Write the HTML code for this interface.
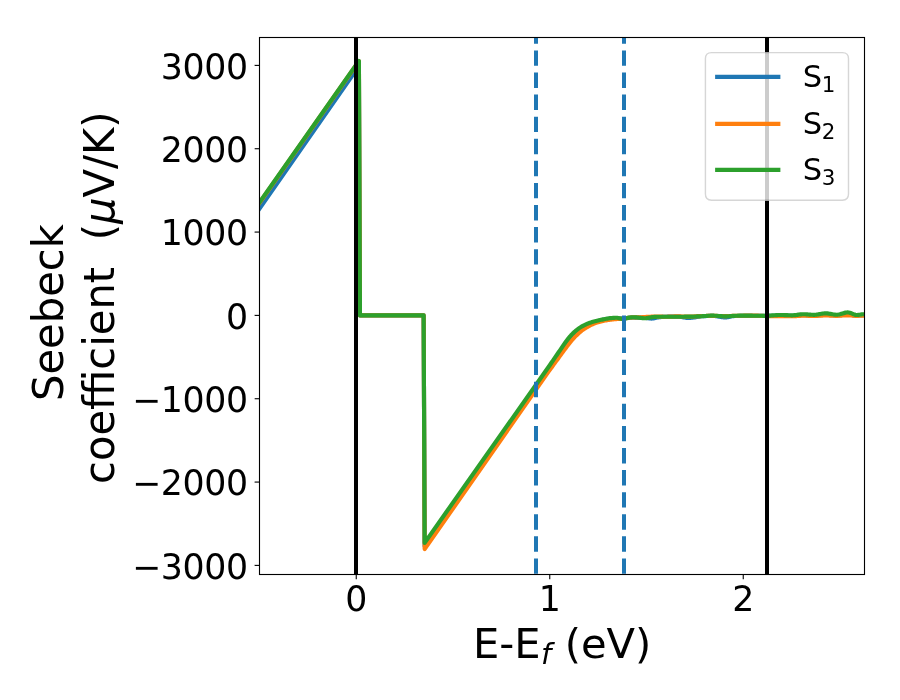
<!DOCTYPE html>
<html lang="en"><head><meta charset="utf-8"><title>Seebeck coefficient vs E-Ef</title>
<style>html,body{margin:0;padding:0;background:#fff;overflow:hidden}svg{display:block}</style>
</head><body>
<svg width="900" height="700" viewBox="0 0 900 700" style="font-family:'DejaVu Sans','Liberation Sans',sans-serif;fill:#000">
<defs><clipPath id="ax"><rect x="259.50" y="37.50" width="605.00" height="537.00"/></clipPath></defs>
<rect width="900" height="700" fill="#fff"/>
<g clip-path="url(#ax)" fill="none" stroke-width="4.167" stroke-linejoin="round">
<polyline stroke="#1f77b4" points="255.63,214.07 358.90,66.10 359.97,315.40 423.65,315.40 424.65,546.23 549.75,367.83 550.76,366.42 551.76,365.01 552.77,363.61 553.77,362.20 554.78,360.79 555.79,359.39 556.79,357.98 557.80,356.58 558.81,355.17 559.81,353.77 560.82,352.36 561.82,350.96 562.83,349.55 563.84,348.13 564.84,346.72 565.85,345.33 566.86,343.97 567.86,342.66 568.87,341.38 569.87,340.13 570.88,338.94 571.89,337.80 572.89,336.71 573.90,335.66 574.91,334.65 575.91,333.68 576.92,332.71 577.92,331.76 578.93,330.87 579.94,330.07 580.94,329.36 581.95,328.71 582.95,328.10 583.96,327.49 584.97,326.87 585.97,326.24 586.98,325.63 587.99,325.06 588.99,324.55 590.00,324.09 591.00,323.66 592.01,323.25 593.02,322.86 594.02,322.47 595.03,322.11 596.04,321.76 597.04,321.44 598.05,321.13 599.05,320.85 600.06,320.58 601.07,320.32 602.07,320.07 603.08,319.82 604.08,319.58 605.09,319.37 606.10,319.20 607.10,319.04 608.11,318.88 609.12,318.73 610.12,318.59 611.13,318.45 612.13,318.33 613.14,318.23 614.15,318.15 615.15,318.10 616.16,318.07 617.17,318.08 618.17,318.14 619.18,318.22 620.18,318.31 621.19,318.38 622.20,318.40 623.20,318.38 624.21,318.32 625.22,318.23 626.22,318.13 627.23,318.02 628.23,317.90 629.24,317.79 630.25,317.70 631.25,317.62 632.26,317.58 633.26,317.57 634.27,317.57 635.28,317.57 636.28,317.58 637.29,317.59 638.30,317.60 639.30,317.62 640.31,317.64 641.31,317.65 642.32,317.68 643.33,317.70 644.33,317.73 645.34,317.78 646.35,317.91 647.35,318.08 648.36,318.26 649.36,318.43 650.37,318.54 651.38,318.56 652.38,318.49 653.39,318.34 654.39,318.13 655.40,317.91 656.41,317.69 657.41,317.50 658.42,317.36 659.43,317.25 660.43,317.14 661.44,317.03 662.44,316.94 663.45,316.86 664.46,316.79 665.46,316.75 666.47,316.72 667.48,316.69 668.48,316.67 669.49,316.65 670.49,316.63 671.50,316.61 672.51,316.60 673.51,316.59 674.52,316.58 675.53,316.57 676.53,316.57 677.54,316.57 678.54,316.61 679.55,316.70 680.56,316.84 681.56,317.01 682.57,317.19 683.57,317.38 684.58,317.56 685.59,317.71 686.59,317.83 687.60,317.89 688.61,317.90 689.61,317.87 690.62,317.82 691.62,317.76 692.63,317.68 693.64,317.54 694.64,317.36 695.65,317.15 696.66,316.94 697.66,316.74 698.67,316.56 699.67,316.44 700.68,316.36 701.69,316.29 702.69,316.23 703.70,316.17 704.70,316.12 705.71,316.07 706.72,316.02 707.72,315.98 708.73,315.95 709.74,315.93 710.74,315.91 711.75,315.90 712.75,315.91 713.76,315.95 714.77,316.04 715.77,316.16 716.78,316.30 717.79,316.47 718.79,316.64 719.80,316.81 720.80,316.97 721.81,317.12 722.82,317.24 723.82,317.34 724.83,317.39 725.84,317.39 726.84,317.30 727.85,317.13 728.85,316.91 729.86,316.67 730.87,316.44 731.87,316.24 732.88,316.11 733.88,316.06 734.89,316.04 735.90,316.02 736.90,316.00 737.91,315.98 738.92,315.96 739.92,315.94 740.93,315.93 741.93,315.91 742.94,315.90 743.95,315.89 744.95,315.88 745.96,315.87 746.97,315.86 747.97,315.85 748.98,315.84 749.98,315.84 750.99,315.83 752.00,315.83 753.00,315.82 754.01,315.82 755.01,315.82 756.02,315.82 757.03,315.82 758.03,315.82 759.04,315.83 760.05,315.84 761.05,315.85 762.06,315.86 763.06,315.88 764.07,315.89 765.08,315.90 766.08,315.90 767.09,315.90 768.10,315.89 769.10,315.87 770.11,315.85 771.11,315.82 772.12,315.79 773.13,315.75 774.13,315.72 775.14,315.69 776.15,315.65 777.15,315.62 778.16,315.60 779.16,315.58 780.17,315.57 781.18,315.57 782.18,315.57 783.19,315.58 784.19,315.60 785.20,315.62 786.21,315.64 787.21,315.67 788.22,315.69 789.23,315.71 790.23,315.72 791.24,315.73 792.24,315.73 793.25,315.72 794.26,315.68 795.26,315.63 796.27,315.57 797.28,315.51 798.28,315.44 799.29,315.38 800.29,315.32 801.30,315.27 802.31,315.24 803.31,315.23 804.32,315.24 805.32,315.26 806.33,315.30 807.34,315.34 808.34,315.38 809.35,315.43 810.36,315.47 811.36,315.51 812.37,315.54 813.37,315.56 814.38,315.57 815.39,315.54 816.39,315.49 817.40,315.41 818.41,315.31 819.41,315.20 820.42,315.09 821.42,314.98 822.43,314.89 823.44,314.81 824.44,314.75 825.45,314.73 826.46,314.75 827.46,314.80 828.47,314.88 829.47,314.97 830.48,315.08 831.49,315.19 832.49,315.30 833.50,315.40 834.50,315.48 835.51,315.54 836.52,315.57 837.52,315.55 838.53,315.49 839.54,315.40 840.54,315.29 841.55,315.16 842.55,315.02 843.56,314.89 844.57,314.77 845.57,314.67 846.58,314.60 847.59,314.57 848.59,314.59 849.60,314.69 850.60,314.83 851.61,315.00 852.62,315.19 853.62,315.36 854.63,315.51 855.63,315.61 856.64,315.65 857.65,315.63 858.65,315.57 859.66,315.49 860.67,315.40 861.67,315.32 862.68,315.26 863.68,315.23 864.69,315.23 865.70,315.23 866.70,315.24 867.71,315.25 868.72,315.26 869.72,315.28 870.73,315.31"/>
<polyline stroke="#ff7f0e" points="255.63,208.33 358.90,61.29 359.97,315.40 423.65,315.40 424.65,549.07 549.75,369.92 550.76,368.54 551.76,367.16 552.77,365.78 553.77,364.40 554.78,363.02 555.79,361.64 556.79,360.26 557.80,358.89 558.81,357.51 559.81,356.13 560.82,354.76 561.82,353.38 562.83,352.01 563.84,350.63 564.84,349.26 565.85,347.89 566.86,346.52 567.86,345.17 568.87,343.86 569.87,342.60 570.88,341.38 571.89,340.18 572.89,339.04 573.90,337.94 574.91,336.90 575.91,335.89 576.92,334.91 577.92,333.97 578.93,333.04 579.94,332.13 580.94,331.26 581.95,330.45 582.95,329.71 583.96,329.03 584.97,328.39 585.97,327.78 586.98,327.19 587.99,326.61 588.99,326.04 590.00,325.50 591.00,324.99 592.01,324.50 593.02,324.04 594.02,323.60 595.03,323.19 596.04,322.82 597.04,322.48 598.05,322.17 599.05,321.88 600.06,321.62 601.07,321.37 602.07,321.14 603.08,320.93 604.08,320.73 605.09,320.54 606.10,320.36 607.10,320.18 608.11,320.02 609.12,319.88 610.12,319.75 611.13,319.62 612.13,319.50 613.14,319.38 614.15,319.28 615.15,319.18 616.16,319.09 617.17,319.02 618.17,318.96 619.18,318.91 620.18,318.86 621.19,318.80 622.20,318.73 623.20,318.63 624.21,318.51 625.22,318.37 626.22,318.22 627.23,318.06 628.23,317.90 629.24,317.75 630.25,317.62 631.25,317.51 632.26,317.43 633.26,317.39 634.27,317.36 635.28,317.34 636.28,317.32 637.29,317.30 638.30,317.29 639.30,317.27 640.31,317.24 641.31,317.21 642.32,317.17 643.33,317.13 644.33,317.07 645.34,317.01 646.35,316.95 647.35,316.89 648.36,316.82 649.36,316.76 650.37,316.71 651.38,316.66 652.38,316.62 653.39,316.59 654.39,316.57 655.40,316.57 656.41,316.57 657.41,316.59 658.42,316.60 659.43,316.62 660.43,316.65 661.44,316.67 662.44,316.69 663.45,316.71 664.46,316.73 665.46,316.73 666.47,316.73 667.48,316.72 668.48,316.69 669.49,316.66 670.49,316.62 671.50,316.57 672.51,316.53 673.51,316.49 674.52,316.45 675.53,316.42 676.53,316.41 677.54,316.40 678.54,316.41 679.55,316.42 680.56,316.44 681.56,316.47 682.57,316.50 683.57,316.53 684.58,316.57 685.59,316.60 686.59,316.62 687.60,316.64 688.61,316.65 689.61,316.65 690.62,316.62 691.62,316.58 692.63,316.52 693.64,316.46 694.64,316.38 695.65,316.31 696.66,316.24 697.66,316.17 698.67,316.12 699.67,316.08 700.68,316.05 701.69,316.03 702.69,316.01 703.70,315.99 704.70,315.97 705.71,315.96 706.72,315.94 707.72,315.93 708.73,315.92 709.74,315.91 710.74,315.90 711.75,315.90 712.75,315.90 713.76,315.91 714.77,315.92 715.77,315.93 716.78,315.94 717.79,315.96 718.79,315.98 719.80,316.00 720.80,316.02 721.81,316.04 722.82,316.05 723.82,316.06 724.83,316.07 725.84,316.07 726.84,316.06 727.85,316.04 728.85,316.02 729.86,316.00 730.87,315.97 731.87,315.93 732.88,315.90 733.88,315.86 734.89,315.83 735.90,315.80 736.90,315.77 737.91,315.75 738.92,315.74 739.92,315.73 740.93,315.72 741.93,315.71 742.94,315.71 743.95,315.70 744.95,315.69 745.96,315.69 746.97,315.68 747.97,315.67 748.98,315.67 749.98,315.67 750.99,315.66 752.00,315.66 753.00,315.65 754.01,315.65 755.01,315.65 756.02,315.65 757.03,315.65 758.03,315.67 759.04,315.71 760.05,315.76 761.05,315.82 762.06,315.89 763.06,315.95 764.07,316.00 765.08,316.04 766.08,316.06 767.09,316.07 768.10,316.07 769.10,316.07 770.11,316.07 771.11,316.07 772.12,316.07 773.13,316.07 774.13,316.07 775.14,316.07 776.15,316.07 777.15,316.07 778.16,316.07 779.16,316.07 780.17,316.07 781.18,316.07 782.18,316.07 783.19,316.08 784.19,316.10 785.20,316.12 786.21,316.14 787.21,316.17 788.22,316.19 789.23,316.21 790.23,316.22 791.24,316.23 792.24,316.23 793.25,316.22 794.26,316.18 795.26,316.13 796.27,316.07 797.28,316.01 798.28,315.94 799.29,315.88 800.29,315.82 801.30,315.77 802.31,315.74 803.31,315.73 804.32,315.74 805.32,315.75 806.33,315.77 807.34,315.79 808.34,315.81 809.35,315.83 810.36,315.85 811.36,315.87 812.37,315.89 813.37,315.90 814.38,315.90 815.39,315.89 816.39,315.86 817.40,315.82 818.41,315.77 819.41,315.72 820.42,315.66 821.42,315.61 822.43,315.56 823.44,315.52 824.44,315.49 825.45,315.48 826.46,315.49 827.46,315.51 828.47,315.54 829.47,315.58 830.48,315.62 831.49,315.67 832.49,315.71 833.50,315.75 834.50,315.78 835.51,315.81 836.52,315.82 837.52,315.81 838.53,315.78 839.54,315.74 840.54,315.68 841.55,315.61 842.55,315.54 843.56,315.48 844.57,315.42 845.57,315.37 846.58,315.33 847.59,315.32 848.59,315.33 849.60,315.37 850.60,315.44 851.61,315.52 852.62,315.60 853.62,315.68 854.63,315.75 855.63,315.80 856.64,315.82 857.65,315.81 858.65,315.78 859.66,315.75 860.67,315.72 861.67,315.69 862.68,315.66 863.68,315.65 864.69,315.65 865.70,315.65 866.70,315.65 867.71,315.66 868.72,315.66 869.72,315.67 870.73,315.69"/>
<polyline stroke="#2ca02c" points="255.63,207.86 358.90,60.96 359.97,315.40 423.65,315.40 424.65,542.90 549.75,365.22 550.76,363.76 551.76,362.30 552.77,360.84 553.77,359.37 554.78,357.91 555.79,356.44 556.79,354.98 557.80,353.52 558.81,352.05 559.81,350.58 560.82,349.09 561.82,347.58 562.83,346.08 563.84,344.61 564.84,343.19 565.85,341.80 566.86,340.44 567.86,339.13 568.87,337.88 569.87,336.67 570.88,335.50 571.89,334.40 572.89,333.37 573.90,332.41 574.91,331.50 575.91,330.64 576.92,329.82 577.92,329.05 578.93,328.32 579.94,327.64 580.94,326.99 581.95,326.40 582.95,325.84 583.96,325.32 584.97,324.83 585.97,324.35 586.98,323.89 587.99,323.46 588.99,323.07 590.00,322.71 591.00,322.38 592.01,322.08 593.02,321.78 594.02,321.50 595.03,321.21 596.04,320.94 597.04,320.69 598.05,320.45 599.05,320.22 600.06,320.01 601.07,319.80 602.07,319.59 603.08,319.39 604.08,319.19 605.09,318.99 606.10,318.81 607.10,318.63 608.11,318.46 609.12,318.30 610.12,318.17 611.13,318.07 612.13,317.98 613.14,317.89 614.15,317.82 615.15,317.76 616.16,317.74 617.17,317.77 618.17,317.96 619.18,318.24 620.18,318.52 621.19,318.74 622.20,318.82 623.20,318.77 624.21,318.66 625.22,318.50 626.22,318.31 627.23,318.09 628.23,317.87 629.24,317.66 630.25,317.48 631.25,317.34 632.26,317.25 633.26,317.24 634.27,317.27 635.28,317.34 636.28,317.43 637.29,317.55 638.30,317.67 639.30,317.80 640.31,317.93 641.31,318.04 642.32,318.14 643.33,318.20 644.33,318.23 645.34,318.21 646.35,318.13 647.35,318.00 648.36,317.83 649.36,317.65 650.37,317.45 651.38,317.26 652.38,317.09 653.39,316.95 654.39,316.85 655.40,316.81 656.41,316.80 657.41,316.79 658.42,316.78 659.43,316.77 660.43,316.76 661.44,316.75 662.44,316.74 663.45,316.74 664.46,316.73 665.46,316.73 666.47,316.73 667.48,316.73 668.48,316.73 669.49,316.73 670.49,316.73 671.50,316.73 672.51,316.73 673.51,316.73 674.52,316.73 675.53,316.73 676.53,316.73 677.54,316.73 678.54,316.73 679.55,316.73 680.56,316.73 681.56,316.72 682.57,316.71 683.57,316.71 684.58,316.70 685.59,316.69 686.59,316.68 687.60,316.67 688.61,316.66 689.61,316.64 690.62,316.63 691.62,316.60 692.63,316.58 693.64,316.55 694.64,316.52 695.65,316.48 696.66,316.45 697.66,316.41 698.67,316.37 699.67,316.33 700.68,316.29 701.69,316.24 702.69,316.18 703.70,316.11 704.70,316.03 705.71,315.96 706.72,315.89 707.72,315.82 708.73,315.76 709.74,315.71 710.74,315.67 711.75,315.65 712.75,315.65 713.76,315.67 714.77,315.71 715.77,315.77 716.78,315.83 717.79,315.90 718.79,315.98 719.80,316.05 720.80,316.13 721.81,316.19 722.82,316.25 723.82,316.29 724.83,316.31 725.84,316.32 726.84,316.30 727.85,316.26 728.85,316.22 729.86,316.16 730.87,316.09 731.87,316.02 732.88,315.95 733.88,315.88 734.89,315.81 735.90,315.75 736.90,315.71 737.91,315.67 738.92,315.65 739.92,315.65 740.93,315.65 741.93,315.65 742.94,315.66 743.95,315.66 744.95,315.66 745.96,315.67 746.97,315.67 747.97,315.68 748.98,315.68 749.98,315.69 750.99,315.70 752.00,315.70 753.00,315.71 754.01,315.72 755.01,315.72 756.02,315.73 757.03,315.73 758.03,315.74 759.04,315.75 760.05,315.76 761.05,315.78 762.06,315.79 763.06,315.80 764.07,315.81 765.08,315.81 766.08,315.82 767.09,315.80 768.10,315.73 769.10,315.63 770.11,315.56 771.11,315.49 772.12,315.42 773.13,315.35 774.13,315.28 775.14,315.21 776.15,315.15 777.15,315.09 778.16,315.04 779.16,315.01 780.17,314.99 781.18,314.98 782.18,314.99 783.19,315.02 784.19,315.05 785.20,315.09 786.21,315.14 787.21,315.18 788.22,315.23 789.23,315.26 790.23,315.29 791.24,315.31 792.24,315.32 793.25,315.28 794.26,315.20 795.26,315.10 796.27,314.97 797.28,314.83 798.28,314.68 799.29,314.54 800.29,314.42 801.30,314.32 802.31,314.25 803.31,314.23 804.32,314.25 805.32,314.29 806.33,314.35 807.34,314.42 808.34,314.49 809.35,314.57 810.36,314.65 811.36,314.72 812.37,314.77 813.37,314.81 814.38,314.82 815.39,314.77 816.39,314.68 817.40,314.53 818.41,314.35 819.41,314.16 820.42,313.96 821.42,313.76 822.43,313.59 823.44,313.45 824.44,313.35 825.45,313.32 826.46,313.35 827.46,313.43 828.47,313.56 829.47,313.73 830.48,313.91 831.49,314.10 832.49,314.28 833.50,314.45 834.50,314.59 835.51,314.69 836.52,314.73 837.52,314.70 838.53,314.56 839.54,314.35 840.54,314.08 841.55,313.78 842.55,313.46 843.56,313.15 844.57,312.87 845.57,312.63 846.58,312.47 847.59,312.40 848.59,312.47 849.60,312.69 850.60,313.03 851.61,313.44 852.62,313.88 853.62,314.29 854.63,314.65 855.63,314.89 856.64,314.98 857.65,314.94 858.65,314.84 859.66,314.70 860.67,314.54 861.67,314.39 862.68,314.28 863.68,314.23 864.69,314.23 865.70,314.24 866.70,314.24 867.71,314.26 868.72,314.29 869.72,314.33 870.73,314.38"/>
<line x1="356.00" x2="356.00" y1="574.50" y2="37.50" stroke="#000" stroke-width="4"/>
<line x1="767.00" x2="767.00" y1="574.50" y2="37.50" stroke="#000" stroke-width="4"/>
<line x1="536.00" x2="536.00" y1="574.50" y2="37.50" stroke="#1f77b4" stroke-width="4" stroke-dasharray="15.417 6.667" stroke-dashoffset="-0.7"/>
<line x1="624.00" x2="624.00" y1="574.50" y2="37.50" stroke="#1f77b4" stroke-width="4" stroke-dasharray="15.417 6.667" stroke-dashoffset="-0.7"/>
</g>
<g stroke="#000" stroke-width="1.111" fill="none">
<line x1="356.25" x2="356.25" y1="574.50" y2="579.36"/>
<line x1="549.75" x2="549.75" y1="574.50" y2="579.36"/>
<line x1="743.25" x2="743.25" y1="574.50" y2="579.36"/>
<line x1="259.50" x2="254.64" y1="565.40" y2="565.40"/>
<line x1="259.50" x2="254.64" y1="482.07" y2="482.07"/>
<line x1="259.50" x2="254.64" y1="398.73" y2="398.73"/>
<line x1="259.50" x2="254.64" y1="315.40" y2="315.40"/>
<line x1="259.50" x2="254.64" y1="232.07" y2="232.07"/>
<line x1="259.50" x2="254.64" y1="148.73" y2="148.73"/>
<line x1="259.50" x2="254.64" y1="65.40" y2="65.40"/>
<rect x="259.50" y="37.50" width="605.00" height="537.00" stroke-linejoin="miter"/>
</g>
<g font-size="34.722" text-anchor="middle">
<text x="356.25" y="611.00">0</text>
<text x="549.75" y="611.00">1</text>
<text x="743.25" y="611.00">2</text>
</g>
<g font-size="34.722" text-anchor="end" letter-spacing="-0.3">
<text x="247.90" y="578.65">−3000</text>
<text x="247.90" y="495.32">−2000</text>
<text x="247.90" y="411.98">−1000</text>
<text x="247.90" y="328.65">0</text>
<text x="247.90" y="245.32">1000</text>
<text x="247.90" y="161.98">2000</text>
<text x="247.90" y="78.65">3000</text>
</g>
<g font-size="41.667" style="font-kerning:none;white-space:pre">
<text x="472.9" y="657.6">E-E<tspan font-size="29.167" font-style="oblique" dx="0.4" dy="6.8">f</tspan><tspan dx="0.2" dy="-6.8"> (eV)</tspan></text>
<text transform="translate(63.0 401.0) rotate(-90) scale(1,1.04)">Seebeck</text>
<text xml:space="preserve" transform="translate(113.8 484.0) rotate(-90) scale(1,1.04)">coefficient  (<tspan font-style="oblique">μ</tspan>V/K)</text>
</g>
<path d="M711.51 200.20 H842.39 Q848.50 200.20 848.50 194.09 V58.71 Q848.50 52.60 842.39 52.60 H711.51 Q705.40 52.60 705.40 58.71 V194.09 Q705.40 200.20 711.51 200.20 Z" fill="#fff" stroke="#ccc" stroke-width="1.389" opacity="0.8"/>
<g font-size="30.556" style="font-kerning:none">
<line x1="717.2" x2="778.3" y1="76.90" y2="76.90" stroke="#1f77b4" stroke-width="4.167" stroke-linecap="square"/>
<text x="802.8" y="86.70">S<tspan font-size="21.389" dx="-0.4" dy="5.0">1</tspan></text>
<line x1="717.2" x2="778.3" y1="123.90" y2="123.90" stroke="#ff7f0e" stroke-width="4.167" stroke-linecap="square"/>
<text x="802.8" y="133.70">S<tspan font-size="21.389" dx="-0.4" dy="5.0">2</tspan></text>
<line x1="717.2" x2="778.3" y1="169.90" y2="169.90" stroke="#2ca02c" stroke-width="4.167" stroke-linecap="square"/>
<text x="802.8" y="179.70">S<tspan font-size="21.389" dx="-0.4" dy="5.0">3</tspan></text>
</g>
</svg>
</body></html>
